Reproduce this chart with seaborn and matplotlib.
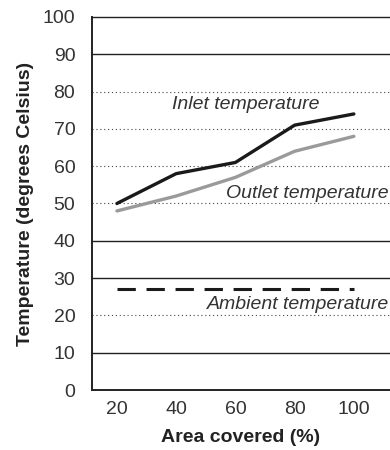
import matplotlib
matplotlib.use("Agg")
import matplotlib.pyplot as plt
import seaborn as sns
import pandas as pd
import numpy as np

area = [20, 40, 60, 80, 100]
inlet = [50, 58, 61, 71, 74]
outlet = [48, 52, 57, 64, 68]
ambient = [27, 27, 27, 27, 27]
y_ticks = [0, 10, 20, 30, 40, 50, 60, 70, 80, 90, 100]
solid_grid = [10, 30, 40, 90]
dotted_grid = [20, 50, 60, 70, 80]

sns.set_theme(style="white")
plt.rcParams['font.family'] = ['Liberation Sans', 'DejaVu Sans']

fig = plt.figure(figsize=(3.9, 4.5), dpi=100)
ax = fig.add_axes([0.236, 0.1333, 0.764, 0.829])

for g in solid_grid:
    ax.axhline(g, color="#222222", lw=1.0, zorder=1)
for g in dotted_grid:
    ax.axhline(g, color="#444444", lw=0.8, ls=(0, (1, 2.5)), zorder=1)

df = pd.DataFrame({"area": area, "inlet": inlet, "outlet": outlet, "ambient": ambient})
sns.lineplot(data=df, x="area", y="inlet", ax=ax, color="#1a1a1a", lw=2.4, zorder=3)
sns.lineplot(data=df, x="area", y="outlet", ax=ax, color="#9a9a9a", lw=2.4, zorder=3)
sns.lineplot(data=df, x="area", y="ambient", ax=ax, color="#1a1a1a", lw=2.2,
             ls=(0, (6, 3.5)), zorder=3)

ax.set_xlim(11.6, 112.2)
ax.set_ylim(0, 100)
ax.set_yticks(y_ticks)
ax.set_yticklabels([str(v) for v in y_ticks], fontsize=14, color="#333333")
ax.set_xticks(area)
ax.set_xticklabels([str(v) for v in area], fontsize=14, color="#333333")
ax.set_xticks([31.6, 51.6, 71.6, 91.6, 111.4], minor=True)
ax.tick_params(axis="x", which="major", length=0, pad=8)
ax.tick_params(axis="x", which="minor", length=6, width=1.4, color="#222222", direction="out")
ax.tick_params(axis="y", which="major", length=0, pad=12)

for side in ["left", "bottom", "top"]:
    ax.spines[side].set_visible(True)
    ax.spines[side].set_color("#222222")
    ax.spines[side].set_linewidth(1.4)
ax.spines["top"].set_linewidth(1.0)
ax.spines["right"].set_visible(False)

ax.set_xlabel("Area covered (%)", fontsize=14, fontweight="bold", color="#222222", labelpad=8)
ax.set_ylabel("Temperature (degrees Celsius)", fontsize=14, fontweight="bold", color="#222222", labelpad=6)

ax.text(63.5, 76.5, "Inlet temperature", fontsize=14, style="italic", color="#333333", ha="center", va="center")
ax.text(111.8, 52.6, "Outlet temperature", fontsize=14, style="italic", color="#333333", ha="right", va="center")
ax.text(111.8, 23.0, "Ambient temperature", fontsize=14, style="italic", color="#333333", ha="right", va="center")

fig.savefig("out.png", dpi=100)
